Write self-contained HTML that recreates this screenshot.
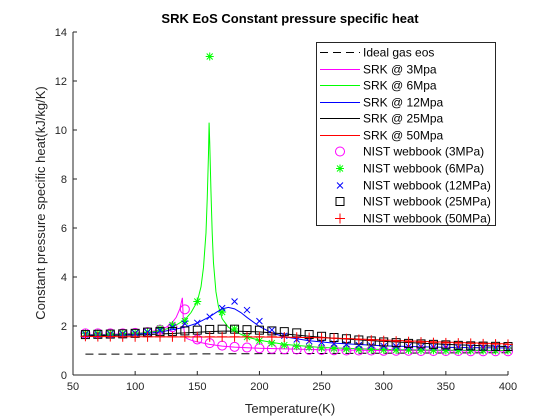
<!DOCTYPE html>
<html><head><meta charset="utf-8"><style>
body{margin:0;background:#fff;}
svg{display:block;font-family:"Liberation Sans",Arial,sans-serif;}
</style></head><body>
<svg id="chart" width="560" height="420" viewBox="0 0 560 420" xmlns="http://www.w3.org/2000/svg">
<rect x="0" y="0" width="560" height="420" fill="#fff"/>
<text x="290" y="23" text-anchor="middle" font-size="13" font-weight="bold" fill="#000">SRK EoS Constant pressure specific heat</text>
<text x="290" y="413" text-anchor="middle" font-size="13" fill="#262626">Temperature(K)</text>
<text transform="translate(45,203) rotate(-90)" text-anchor="middle" font-size="13" fill="#262626">Constant pressure specific heat(kJ/kg/K)</text>
<g id="axes"></g>
<g id="series"></g>
<g id="legend"></g>
</svg>
<script>
const xTicks=[50,100,150,200,250,300,350,400];
const yTicks=[0,2,4,6,8,10,12,14];
const nistT=[60,70,80,90,100,110,120,130,140,150,160,170,180,190,200,210,220,230,240,250,260,270,280,290,300,310,320,330,340,350,360,370,380,390,400];
const nist3=[1.7,1.7,1.7,1.7,1.72,1.75,1.85,1.95,2.68,1.45,1.3,1.2,1.15,1.12,1.09,1.07,1.05,1.04,1.03,1.02,1.01,1.0,1.0,1.0,0.99,0.99,0.99,0.98,0.98,0.98,0.98,0.97,0.97,0.97,0.97];
const nist6=[1.7,1.7,1.7,1.7,1.72,1.75,1.9,2.04,2.2,3.0,13.0,2.57,1.88,1.55,1.4,1.3,1.22,1.17,1.13,1.1,1.08,1.06,1.05,1.04,1.03,1.02,1.02,1.01,1.01,1.0,1.0,1.0,1.0,1.0,1.0];
const nist12=[1.65,1.65,1.66,1.67,1.7,1.75,1.82,1.95,2.1,2.13,2.38,2.73,3.0,2.65,2.2,1.84,1.6,1.45,1.38,1.32,1.28,1.25,1.22,1.2,1.18,1.17,1.16,1.15,1.14,1.13,1.12,1.12,1.11,1.11,1.1];
const nist25=[1.65,1.66,1.67,1.68,1.7,1.75,1.77,1.78,1.8,1.83,1.86,1.87,1.87,1.85,1.83,1.8,1.77,1.72,1.65,1.58,1.53,1.48,1.43,1.39,1.35,1.32,1.29,1.27,1.25,1.23,1.21,1.19,1.18,1.17,1.16];
const nist50=[1.58,1.57,1.57,1.56,1.56,1.56,1.56,1.56,1.56,1.56,1.56,1.56,1.56,1.56,1.56,1.56,1.55,1.54,1.53,1.52,1.5,1.48,1.45,1.42,1.4,1.38,1.36,1.34,1.32,1.31,1.3,1.29,1.27,1.26,1.25];
const idealT=[60,100,150,200,250,300,350,400];
const idealCp=[0.85,0.85,0.86,0.87,0.88,0.89,0.9,0.91];
const srk3T=[60,80,100,110,120,125,130,133,136,138,139,140,142,145,150,160,170,180,200,250,300,350,400];
const srk3=[1.65,1.66,1.7,1.74,1.85,1.95,2.15,2.35,2.7,3.15,2.0,1.55,1.48,1.42,1.35,1.25,1.18,1.14,1.09,1.03,1.0,0.99,0.98];
const srk6T=[60,80,100,120,130,140,145,150,153,155,157,158,159,159.5,160,161,162,163,165,167,170,175,180,190,200,220,250,300,350,400];
const srk6=[1.64,1.65,1.68,1.8,1.95,2.25,2.55,3.0,3.6,4.4,5.8,7.2,9.0,10.3,9.5,7.5,5.8,4.6,3.4,2.8,2.3,1.95,1.78,1.55,1.42,1.25,1.12,1.04,1.01,1.0];
const srk12T=[60,80,100,120,140,150,160,165,170,175,180,185,190,200,210,220,240,260,300,350,400];
const srk12=[1.62,1.63,1.66,1.75,1.95,2.12,2.38,2.55,2.7,2.76,2.7,2.55,2.35,1.98,1.72,1.56,1.4,1.3,1.19,1.13,1.1];
const srk25T=[60,100,140,160,170,180,200,220,240,260,300,350,400];
const srk25=[1.6,1.63,1.72,1.77,1.79,1.79,1.76,1.68,1.58,1.5,1.37,1.25,1.16];
const srk50T=[60,100,150,200,220,250,280,300,350,400];
const srk50=[1.57,1.56,1.55,1.55,1.54,1.52,1.47,1.43,1.34,1.27];

const X0=73,X1=508,Y0=375,Y1=32;
const xs=v=>X0+(v-50)/(400-50)*(X1-X0);
const ys=v=>Y0-(v-0)/(14-0)*(Y0-Y1);
const NS="http://www.w3.org/2000/svg";
function mk(tag,attrs,parent){const e=document.createElementNS(NS,tag);for(const k in attrs)e.setAttribute(k,attrs[k]);parent.appendChild(e);return e;}
const axes=document.getElementById('axes'),series=document.getElementById('series'),legend=document.getElementById('legend');

let e=mk('line',{x1:X0,y1:Y0,x2:X1,y2:Y0,stroke:'#262626','stroke-width':1},axes);


e=mk('line',{x1:X0,y1:Y0,x2:X0,y2:Y1,stroke:'#262626','stroke-width':1},axes);


xTicks.forEach(t=>{
  mk('line',{x1:xs(t),y1:Y0,x2:xs(t),y2:Y0-4,stroke:'#262626'},axes);
  const tx=mk('text',{x:xs(t),y:Y0+15,'text-anchor':'middle','font-size':11,fill:'#262626'},axes);
  tx.textContent=t;
  
  
});
yTicks.forEach(t=>{
  mk('line',{x1:X0,y1:ys(t),x2:X0+4,y2:ys(t),stroke:'#262626'},axes);
  const tx=mk('text',{x:X0-6,y:ys(t)+4,'text-anchor':'end','font-size':11,fill:'#262626'},axes);
  tx.textContent=t;
  
  
});

function line(T,V,color,name,dash){
  const p=mk('polyline',{points:T.map((t,i)=>xs(t)+','+ys(V[i])).join(' '),fill:'none',stroke:color,'stroke-width':1,'stroke-dasharray':dash||'none'},series);
  
  
}
function marker(g,type,x,y,color){
  if(type==='o')mk('circle',{cx:x,cy:y,r:4.5,fill:'none',stroke:color},g);
  else if(type==='*'){[[0,-4,0,4],[-4,0,4,0],[-3,-3,3,3],[-3,3,3,-3]].forEach(d=>mk('line',{x1:x+d[0],y1:y+d[1],x2:x+d[2],y2:y+d[3],stroke:color},g));}
  else if(type==='x'){[[-3,-3,3,3],[-3,3,3,-3]].forEach(d=>mk('line',{x1:x+d[0],y1:y+d[1],x2:x+d[2],y2:y+d[3],stroke:color},g));}
  else if(type==='s')mk('rect',{x:x-4,y:y-4,width:8,height:8,fill:'none',stroke:color},g);
  else if(type==='+'){[[0,-5,0,5],[-5,0,5,0]].forEach(d=>mk('line',{x1:x+d[0],y1:y+d[1],x2:x+d[2],y2:y+d[3],stroke:color},g));}
}
function points(T,V,type,color,name){
  const g=mk('g',{},series);
  
  
  T.forEach((t,i)=>marker(g,type,xs(t),ys(V[i]),color));
}
line(idealT,idealCp,'#000','ideal-gas-line','8 5');
line(srk3T,srk3,'#ff00ff','srk-3mpa-line');
line(srk6T,srk6,'#00ff00','srk-6mpa-line');
line(srk12T,srk12,'#0000ff','srk-12mpa-line');
line(srk25T,srk25,'#000','srk-25mpa-line');
line(srk50T,srk50,'#ff0000','srk-50mpa-line');
points(nistT,nist3,'o','#ff00ff','nist-3mpa-markers');
points(nistT,nist6,'*','#00ff00','nist-6mpa-markers');
points(nistT,nist12,'x','#0000ff','nist-12mpa-markers');
points(nistT,nist25,'s','#000','nist-25mpa-markers');
points(nistT,nist50,'+','#ff0000','nist-50mpa-markers');

// legend
const lb=mk('rect',{x:316.5,y:42.5,width:179,height:183,fill:'#fff',stroke:'#262626','stroke-width':1},legend);


const entries=[['Ideal gas eos','#000','dash'],['SRK @ 3Mpa','#ff00ff','line'],['SRK @ 6Mpa','#00ff00','line'],['SRK @ 12Mpa','#0000ff','line'],['SRK @ 25Mpa','#000','line'],['SRK @ 50Mpa','#ff0000','line'],
['NIST webbook (3MPa)','#ff00ff','o'],['NIST webbook (6MPa)','#00ff00','*'],['NIST webbook (12MPa)','#0000ff','x'],['NIST webbook (25MPa)','#000','s'],['NIST webbook (50MPa)','#ff0000','+']];
entries.forEach((en,i)=>{
  const y=Math.round(52+i*16.57)+0.5;
  const g=mk('g',{},legend);
  
  
  if(en[2]==='dash')mk('line',{x1:320,y1:y,x2:360,y2:y,stroke:en[1],'stroke-dasharray':'8 5'},g);
  else if(en[2]==='line')mk('line',{x1:320,y1:y,x2:360,y2:y,stroke:en[1]},g);
  else marker(g,en[2],340,y,en[1]);
  const t=mk('text',{x:363,y:y+4,'font-size':12,fill:'#000'},g);
  t.textContent=en[0];
});
</script>
</body></html>
